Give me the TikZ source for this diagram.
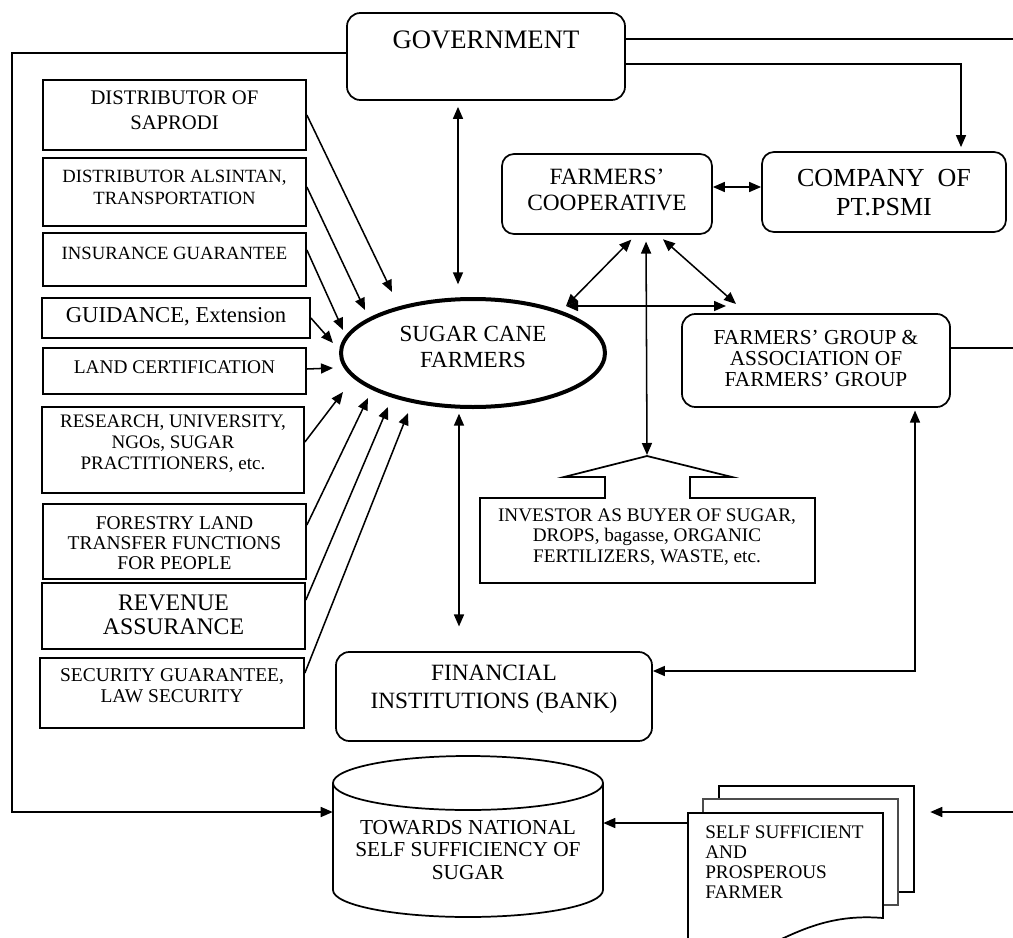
\documentclass[tikz,border=0pt]{standalone}
\usepackage{fontspec}
\setmainfont{Liberation Serif}
\usetikzlibrary{arrows.meta,fit,shapes.geometric,calc}
\newcommand\myfs[2]{\fontsize{#1}{#2}\selectfont}
\begin{document}
\begin{tikzpicture}[x=0.75pt,y=-0.75pt,
  box/.style={draw, line width=1.3pt, inner sep=0pt},
  rbox/.style={box, rounded corners=10pt},
  ghost/.style={inner sep=0pt},
  txt/.style={align=center, inner sep=0pt},
  con/.style={line width=1.15pt, -{Triangle[length=9pt,width=7.5pt]}},
  bicon/.style={line width=1.15pt, {Triangle[length=9pt,width=7.5pt]}-{Triangle[length=9pt,width=7.5pt]}},
  ln/.style={line width=1.15pt},
]
\useasboundingbox (0,0) rectangle (1013,938);
\clip (0,0) rectangle (1013,938);

% ---------- GOVERNMENT ----------
\node[rbox, fit={(347,13)(625,100)}] (gov) {};
\node[txt, font=\myfs{20}{24}] (govt) at (486,40) {GOVERNMENT};

% ---------- left boxes ----------
\node[box, fit={(43,80)(306,150)}] (b1) {};
\node[txt, font=\myfs{15.5}{18.75}] (t1) at (174.5,110.5) {DISTRIBUTOR OF\\SAPRODI};
\node[box, fit={(43,158)(306,226)}] (b2) {};
\node[txt, font=\myfs{14}{16.5}] (t2) at (174.5,187) {DISTRIBUTOR ALSINTAN,\\TRANSPORTATION};
\node[box, fit={(43,233)(306,286)}] (b3) {};
\node[txt, font=\myfs{14}{16.5}] (t3) at (174.5,253) {INSURANCE GUARANTEE};
\node[box, fit={(42,298)(310,338)}] (b4) {};
\node[txt, font=\myfs{17}{20}] (t4) at (176,317) {GUIDANCE, Extension};
\node[box, fit={(43,348)(306,394)}] (b5) {};
\node[txt, font=\myfs{14.5}{17}] (t5) at (174.5,367) {LAND CERTIFICATION};
\node[box, fit={(42,407)(304,493)}] (b6) {};
\node[txt, font=\myfs{14.3}{15.75}] (t6) at (173,444) {RESEARCH, UNIVERSITY,\\NGOs, SUGAR\\PRACTITIONERS, etc.};
\node[box, fit={(43,504)(306,579)}] (b7) {};
\node[txt, font=\myfs{14.6}{14.8}] (t7) at (174.5,543) {FORESTRY LAND\\TRANSFER FUNCTIONS\\FOR PEOPLE};
\node[box, fit={(42,583)(305,649)}] (b8) {};
\node[txt, font=\myfs{17.8}{18}] (t8) at (173.5,615) {REVENUE\\ASSURANCE};
\node[box, fit={(40,658)(304,728)}] (b9) {};
\node[txt, font=\myfs{14.6}{15.75}] (t9) at (172,686) {SECURITY GUARANTEE,\\LAW SECURITY};

% ---------- sugar cane farmers ----------
\node[ellipse, draw, line width=3pt, minimum width=198pt, minimum height=81pt, inner sep=0pt] (scf) at (473,353) {};
\node[txt, font=\myfs{17.3}{19.5}] (scft) at (473,347) {SUGAR CANE\\FARMERS};

% ---------- right side boxes ----------
\node[rbox, rounded corners=9pt, fit={(502,154)(712,234)}] (coop) {};
\node[txt, font=\myfs{17.5}{20}] (coopt) at (607,190) {FARMERS’\\COOPERATIVE};
\node[rbox, rounded corners=9pt, fit={(762,152)(1006,232)}] (comp) {};
\node[txt, font=\myfs{19.5}{21.75}] (compt) at (884,193) {COMPANY\ \ OF\\PT.PSMI};
\node[rbox, fit={(682,314)(950,407)}] (fg) {};
\node[txt, font=\myfs{16}{15.75}] (fgt) at (816,358.5) {FARMERS’ GROUP \&\\ASSOCIATION OF\\FARMERS’ GROUP};
\node[rbox, fit={(336,652)(652,741)}] (bank) {};
\node[txt, font=\myfs{17.5}{21}] (bankt) at (494,689.5) {FINANCIAL\\INSTITUTIONS (BANK)};

% ---------- investor callout ----------
\draw[box] (647,456) -- (732,477) -- (690,477) -- (690,498) -- (815,498) -- (815,583)
  -- (480,583) -- (480,498) -- (605,498) -- (605,477) -- (564,477) -- cycle;
\node[ghost, fit={(480,456)(815,583)}] (inv) {};
\coordinate (invtop) at (647,455);
\node[txt, font=\myfs{14.4}{15.4}] (invt) at (647,537) {INVESTOR AS BUYER OF SUGAR,\\DROPS, bagasse, ORGANIC\\FERTILIZERS, WASTE, etc.};

% ---------- cylinder ----------
\draw[box, fill=white] (333,783) -- (333,890)
  .. controls (333,904.9) and (393.4,917) .. (468,917)
  .. controls (542.6,917) and (603,904.9) .. (603,890) -- (603,783);
\draw[box] (333,783) .. controls (333,768.1) and (393.4,756) .. (468,756)
  .. controls (542.6,756) and (603,768.1) .. (603,783)
  .. controls (603,797.9) and (542.6,810) .. (468,810)
  .. controls (393.4,810) and (333,797.9) .. (333,783) -- cycle;
\node[ghost, fit={(333,756)(603,917)}] (cyl) {};
\node[txt, font=\myfs{16}{16.9}] (cylt) at (468,850) {TOWARDS NATIONAL\\SELF SUFFICIENCY OF\\SUGAR};

% ---------- document stack ----------
\draw[box, fill=white] (719,786) rectangle (914,892);
\draw[box, fill=white, draw=black!70, line width=1.7pt] (703,799) rectangle (898,905);
\draw[box, fill=white] (688,813) -- (883,813) -- (883,918)
  .. controls (835,914) and (805,928) .. (775,942)
  .. controls (745,956) and (712,962) .. (688,958) -- cycle;
\node[ghost, fit={(688,786)(914,938)}] (doc) {};
\node[align=left, inner sep=0pt, anchor=west, font=\myfs{14.4}{15}] (doct) at (705,862) {SELF SUFFICIENT\\AND\\PROSPEROUS\\FARMER};

% ---------- free ends / junctions ----------
\coordinate (edgeA) at (1013,39);
\coordinate (edgeB) at (1013,348);
\coordinate (edgeC) at (1013,812);
\coordinate (corTL) at (12,53);
\coordinate (corBL) at (12,812);
\coordinate (scNE) at (566,306);
\coordinate (fgNWa) at (726,306);
\coordinate (fgNWb) at (736,304);
\coordinate (e1) at (392,292);
\coordinate (e2) at (365,310);
\coordinate (e3) at (343,330);
\coordinate (e4) at (333,343);
\coordinate (e5) at (333,368);
\coordinate (e6) at (343,392);
\coordinate (e7) at (368,398);
\coordinate (e8) at (388,407);
\coordinate (e9) at (408,413);

% ---------- connectors ----------
\draw[con] (gov.west |- 0,53) -- (corTL) -- (corBL) -- (cyl.west |- 0,812);
\draw[ln] (gov.east |- 0,39) -- (edgeA);
\draw[con, shorten >=3pt] (gov.east |- 0,64) -| (comp.north -| 961,0);
\draw[bicon] (coop.east |- 0,187) -- (comp.west |- 0,187);
\draw[bicon, shorten <=5pt] (coop.south -| 636,0) -- (scNE);
\draw[bicon, shorten <=5pt] (coop.south -| 658,0) -- (fgNWb);
\draw[bicon, shorten <=5pt] (coop.south -| 646,0) -- (invtop);
\draw[bicon] (scNE) -- (fgNWa);
\draw[bicon, shorten <=4.5pt, shorten >=9.5pt] (gov.south -| 458,0) -- (scf.north -| 458,0);
\draw[bicon, shorten <=3.5pt, shorten >=18.5pt] (scf.south -| 459,0) -- (bank.north -| 459,0);
\draw[bicon, shorten <=2pt] (fg.south -| 915,0) |- (bank.east |- 0,671);
\draw[ln] (fg.east |- 0,348) -- (edgeB);
\draw[con] (doc.west |- 0,823) -- (cyl.east |- 0,823);
\draw[con, shorten >=12pt] (edgeC) -- (doc.east |- 0,812);

\draw[con] (b1.east |- 0,115) -- (e1);
\draw[con] (b2.east |- 0,187) -- (e2);
\draw[con] (b3.east |- 0,250) -- (e3);
\draw[con] (b4.east |- 0,318) -- (e4);
\draw[con] (b5.east |- 0,369) -- (e5);
\draw[con] (b6.east |- 0,442) -- (e6);
\draw[con] (b7.east |- 0,525) -- (e7);
\draw[con] (b8.east |- 0,600) -- (e8);
\draw[con] (b9.east |- 0,673) -- (e9);
\end{tikzpicture}
\end{document}
